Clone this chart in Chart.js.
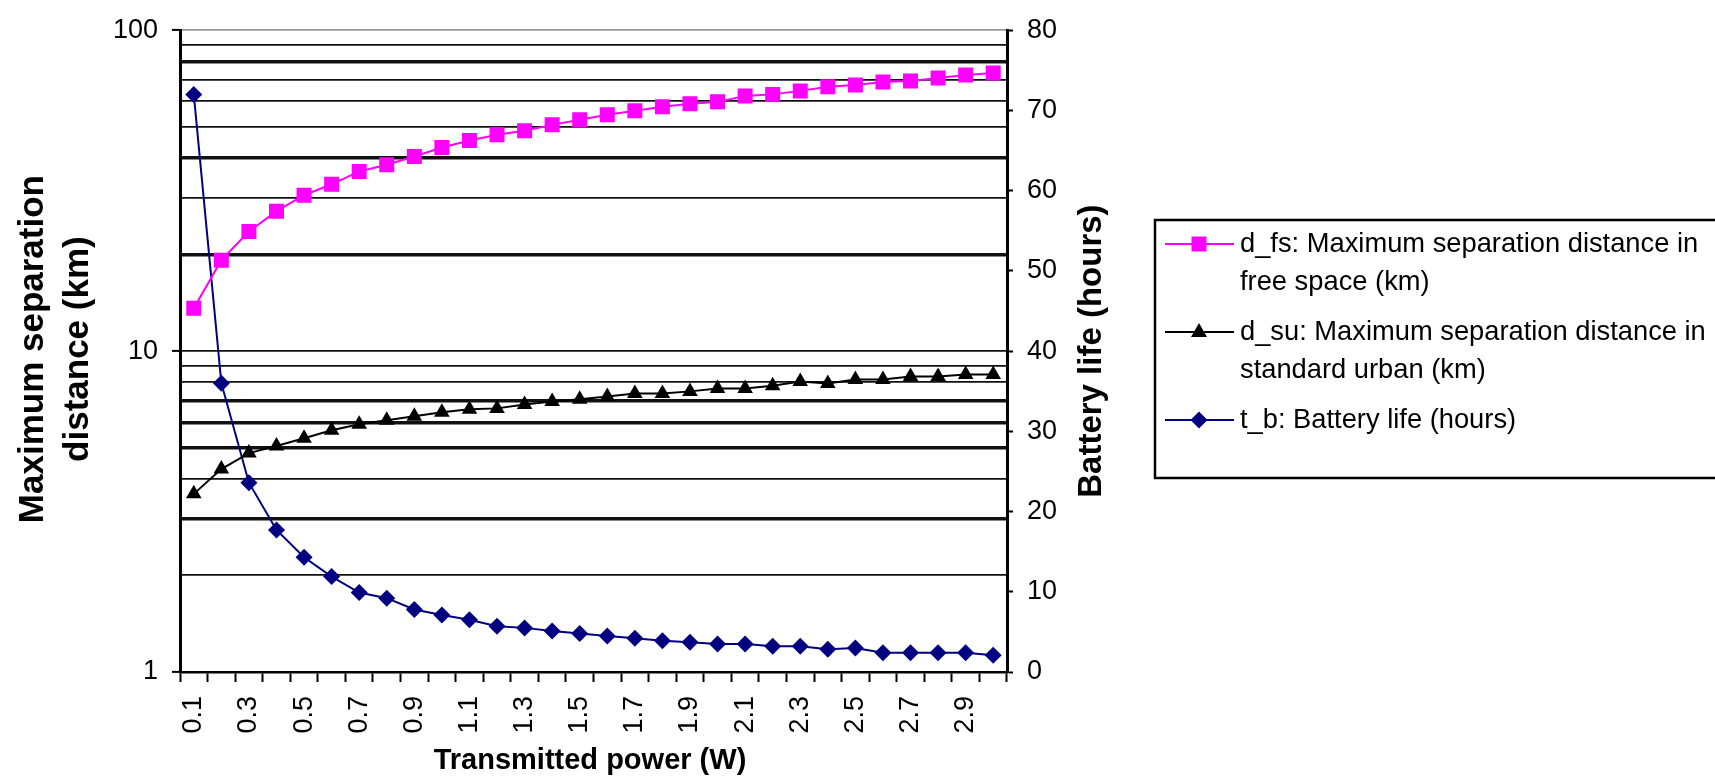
<!DOCTYPE html>
<html>
<head>
<meta charset="utf-8">
<title>Separation distance and battery life</title>
<script src="https://cdn.jsdelivr.net/npm/chart.js@4"></script>
<style>
    html, body { margin: 0; padding: 0; background: #fff; }
    #wrap { width: 1715px; height: 779px; }
</style>
</head>
<body>
<div id="wrap"><canvas id="myChart"></canvas></div>
<script>
"use strict";

const power = ['0.1', '0.2', '0.3', '0.4', '0.5', '0.6', '0.7', '0.8', '0.9', '1',
    '1.1', '1.2', '1.3', '1.4', '1.5', '1.6', '1.7', '1.8', '1.9', '2',
    '2.1', '2.2', '2.3', '2.4', '2.5', '2.6', '2.7', '2.8', '2.9', '3'];

// free space distance (km), left log axis
const dFs = [13.6, 19.2, 23.6, 27.3, 30.6, 33.1, 36.3, 38.1, 40.4, 43.1,
    45.3, 47.2, 48.6, 50.7, 52.6, 54.5, 56.1, 57.7, 59.0, 59.8,
    62.4, 63.1, 64.7, 66.6, 67.5, 69.0, 69.5, 71.0, 72.5, 73.6];

// standard urban distance (km), left log axis
const dSu = [3.59, 4.29, 4.81, 5.06, 5.35, 5.67, 5.92, 6.09, 6.27, 6.45,
    6.59, 6.63, 6.82, 6.97, 7.08, 7.22, 7.38, 7.38, 7.49, 7.65,
    7.65, 7.8, 8.04, 7.93, 8.16, 8.16, 8.34, 8.34, 8.46, 8.46];

// battery life (hours), right axis
const tB = [72, 36, 23.6, 17.7, 14.3, 11.9, 9.9, 9.2, 7.8, 7.1,
    6.5, 5.7, 5.5, 5.1, 4.8, 4.5, 4.2, 3.9, 3.7, 3.5,
    3.5, 3.2, 3.2, 2.85, 3.0, 2.4, 2.4, 2.4, 2.4, 2.1];

const leftTicks = [1, 2, 3, 4, 5, 6, 7, 8, 9, 10, 20, 30, 40, 50, 60, 70, 80, 90, 100];
const leftLabels = [1, 10, 100];

const legendLines = [
    ['d_fs: Maximum separation distance in', 'free space (km)'],
    ['d_su: Maximum separation distance in', 'standard urban (km)'],
    ['t_b: Battery life (hours)']
];
const xTitle = 'Transmitted power (W)';
const leftTitle = ['Maximum separation', 'distance (km)'];
const rightTitle = 'Battery life (hours)';

const FONT = '"Liberation Sans", Arial, sans-serif';
const heavyGrid = [3, 5, 6, 7, 20, 40, 80];

function drawMarker(ctx, shape, x, y, color) {
    ctx.fillStyle = color;
    ctx.beginPath();
    if (shape === 'rect') {
        ctx.rect(x - 7.5, y - 7.5, 15, 15);
    } else if (shape === 'triangle') {
        ctx.moveTo(x, y - 9);
        ctx.lineTo(x + 8, y + 5);
        ctx.lineTo(x - 8, y + 5);
    } else {
        ctx.moveTo(x, y - 8.5);
        ctx.lineTo(x + 8.5, y);
        ctx.lineTo(x, y + 8.5);
        ctx.lineTo(x - 8.5, y);
    }
    ctx.closePath();
    ctx.fill();
}

const extras = {
    id: 'extras',
    afterDraw(chart) {
        const ctx = chart.ctx;
        const area = chart.chartArea;
        const mid = (area.top + area.bottom) / 2;
        ctx.save();
        ctx.fillStyle = '#000';
        ctx.textAlign = 'center';
        ctx.textBaseline = 'middle';

        ctx.font = 'bold 29px ' + FONT;
        ctx.fillText(xTitle, 590, 761);

        ctx.font = 'bold 35px ' + FONT;
        ctx.save();
        ctx.translate(33, mid - 2);
        ctx.rotate(-Math.PI / 2);
        ctx.fillText(leftTitle[0], 0, 0);
        ctx.fillText(leftTitle[1], 0, 45);
        ctx.restore();

        ctx.font = 'bold 33px ' + FONT;
        ctx.save();
        ctx.translate(1092, mid);
        ctx.rotate(-Math.PI / 2);
        ctx.fillText(rightTitle, 0, 0);
        ctx.restore();

        // legend box
        ctx.strokeStyle = '#000';
        ctx.lineWidth = 2.5;
        ctx.strokeRect(1155, 220, 700, 258);

        ctx.textAlign = 'left';
        ctx.font = '27.3px ' + FONT;
        const rows = [244, 332, 420];
        chart.data.datasets.forEach(function (ds, i) {
            const y = rows[i];
            ctx.strokeStyle = ds.borderColor;
            ctx.lineWidth = 2;
            ctx.beginPath();
            ctx.moveTo(1165, y);
            ctx.lineTo(1234, y);
            ctx.stroke();
            drawMarker(ctx, ds.pointStyle, 1199, y, ds.backgroundColor);
            ctx.fillStyle = '#000';
            legendLines[i].forEach(function (line, j) {
                ctx.fillText(line, 1240, y + j * 38);
            });
        });
        ctx.restore();
    }
};

const ctx = document.getElementById('myChart').getContext('2d');
new Chart(ctx, {
    type: 'line',
    data: {
        labels: power,
        datasets: [{
            label: legendLines[0].join(' '),
            data: dFs,
            yAxisID: 'y',
            borderColor: '#ff00ff',
            backgroundColor: '#ff00ff',
            borderWidth: 2,
            pointStyle: 'rect',
            pointRadius: 10.6,
            pointBorderWidth: 0
        }, {
            label: legendLines[1].join(' '),
            data: dSu,
            yAxisID: 'y',
            borderColor: '#000000',
            backgroundColor: '#000000',
            borderWidth: 2,
            pointStyle: 'triangle',
            pointRadius: 9,
            pointBorderWidth: 0
        }, {
            label: legendLines[2].join(' '),
            data: tB,
            yAxisID: 'y2',
            borderColor: '#000080',
            backgroundColor: '#000080',
            borderWidth: 2,
            pointStyle: 'rectRot',
            pointRadius: 8.5,
            pointBorderWidth: 0
        }]
    },
    options: {
        responsive: true,
        maintainAspectRatio: false,
        animation: false,
        layout: { padding: { top: 27, left: 0, right: 568, bottom: 0 } },
        plugins: {
            legend: { display: false },
            tooltip: { enabled: false }
        },
        scales: {
            x: {
                type: 'category',
                offset: true,
                afterFit: function (s) { s.height = 107; },
                grid: {
                    offset: true,
                    drawOnChartArea: false,
                    tickLength: 10,
                    tickColor: '#000',
                    tickWidth: 2
                },
                border: { color: '#000', width: 2.5 },
                ticks: {
                    autoSkip: false,
                    maxRotation: 90,
                    minRotation: 90,
                    padding: 14,
                    color: '#000',
                    font: { family: FONT, size: 27 },
                    callback: function (val, i) {
                        return i % 2 === 0 ? power[i] : '';
                    }
                }
            },
            y: {
                type: 'logarithmic',
                position: 'left',
                min: 1,
                max: 100,
                afterFit: function (s) { s.width = 180; },
                afterBuildTicks: function (s) {
                    s.ticks = leftTicks.map(function (v) { return { value: v }; });
                },
                grid: {
                    color: function (c) {
                        return c.tick && c.tick.value === 100 ? '#999' : '#111';
                    },
                    lineWidth: function (c) {
                        return c.tick && heavyGrid.indexOf(c.tick.value) >= 0 ? 3.5 : 1.8;
                    },
                    tickColor: function (c) {
                        return c.tick && leftLabels.indexOf(c.tick.value) >= 0 ? '#000' : 'rgba(0,0,0,0)';
                    },
                    tickLength: 8,
                    tickWidth: 2
                },
                border: { color: '#000', width: 3 },
                ticks: {
                    autoSkip: false,
                    padding: 14,
                    color: '#000',
                    font: { family: FONT, size: 27 },
                    callback: function (v) {
                        return leftLabels.indexOf(v) >= 0 ? String(v) : '';
                    }
                }
            },
            y2: {
                type: 'linear',
                position: 'right',
                min: 0,
                max: 80,
                afterFit: function (s) { s.width = 140; },
                grid: {
                    drawOnChartArea: false,
                    tickLength: 6,
                    tickColor: '#000',
                    tickWidth: 2
                },
                border: { color: '#000', width: 3 },
                ticks: {
                    stepSize: 10,
                    padding: 14,
                    color: '#000',
                    font: { family: FONT, size: 27 }
                }
            }
        }
    },
    plugins: [extras]
});
</script>
</body>
</html>
